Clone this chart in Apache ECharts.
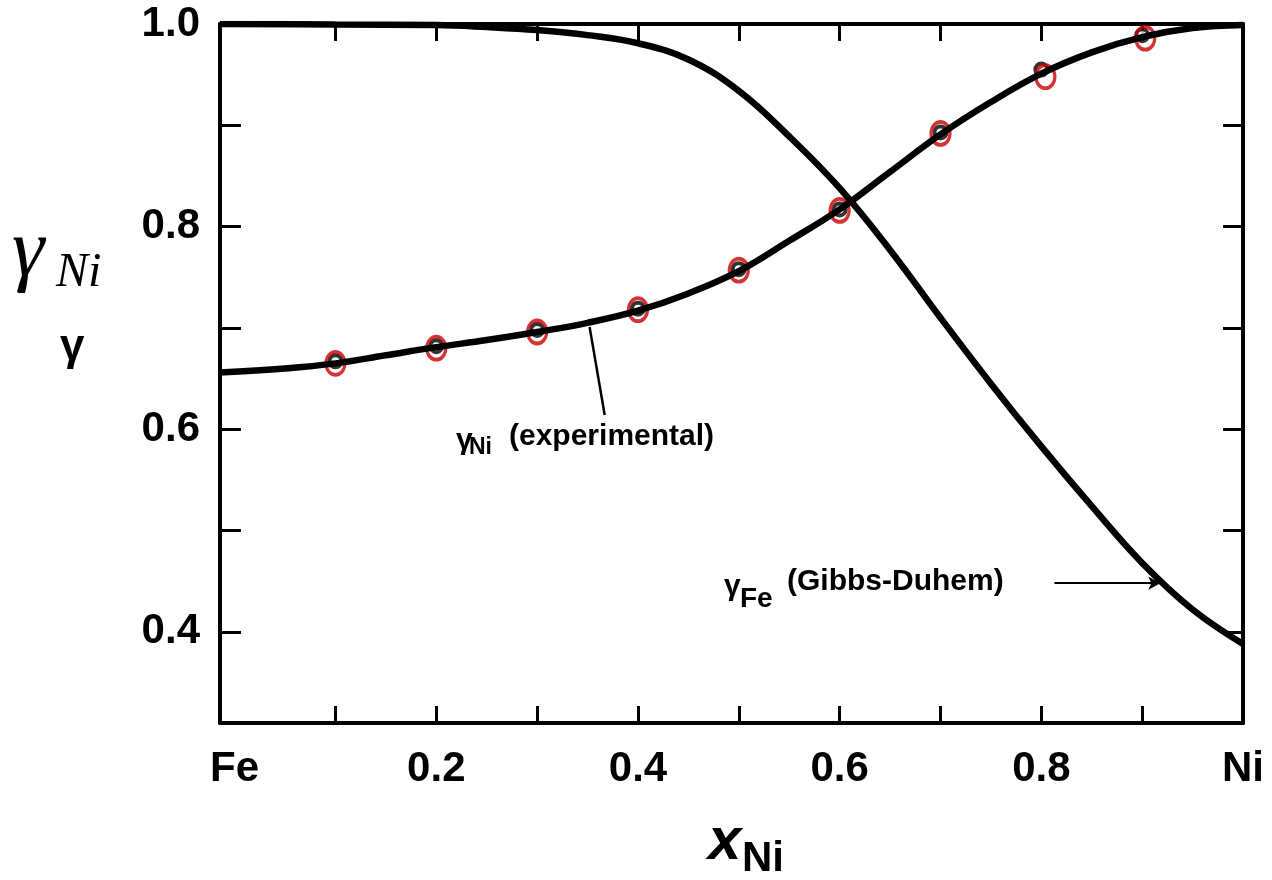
<!DOCTYPE html>
<html>
<head>
<meta charset="utf-8">
<script src="https://cdn.jsdelivr.net/npm/echarts@6/dist/echarts.min.js"></script>
<style>
  html, body { margin: 0; padding: 0; background: #ffffff; }
  #chart { width: 1272px; height: 880px; }
</style>
</head>
<body>
<div id="chart"></div>
<script>
// ---- data ----
const xMin = -0.0145;            // left frame edge of plot
const xMax = 1.0;
const yMin = 0.31;
const yMax = 1.0;

// gamma_Ni experimental smooth curve
const niCurveX = [-0.0145, 0.05, 0.1, 0.15, 0.2, 0.25, 0.3, 0.35, 0.4, 0.45, 0.5, 0.55, 0.6, 0.65, 0.7, 0.75, 0.8, 0.85, 0.9, 0.95, 1.0];
const niCurveY = [0.656, 0.660, 0.665, 0.673, 0.681, 0.688, 0.696, 0.705, 0.717, 0.734, 0.756, 0.786, 0.817, 0.854, 0.891, 0.923, 0.951, 0.972, 0.987, 0.996, 0.999];

// gamma_Fe Gibbs-Duhem curve
const feCurveX = [-0.0145, 0.1, 0.2, 0.25, 0.3, 0.35, 0.4, 0.45, 0.5, 0.55, 0.6, 0.65, 0.7, 0.75, 0.8, 0.85, 0.9, 0.95, 1.0];
const feCurveY = [1.0, 0.9995, 0.999, 0.997, 0.994, 0.989, 0.981, 0.965, 0.934, 0.889, 0.838, 0.777, 0.71, 0.645, 0.583, 0.524, 0.468, 0.422, 0.388];

// experimental points (black open dots)
const expX = [0.1, 0.2, 0.3, 0.4, 0.5, 0.6, 0.7, 0.8, 0.9];
const expY = [0.667, 0.682, 0.698, 0.719, 0.758, 0.817, 0.893, 0.955, 0.989];

// red circled points
const redX = [0.1, 0.2, 0.3, 0.4, 0.5, 0.6, 0.7, 0.804, 0.903];
const redY = [0.665, 0.680, 0.696, 0.718, 0.757, 0.816, 0.892, 0.948, 0.986];

// ticks / labels
const xTickValues = [0.1, 0.2, 0.3, 0.4, 0.5, 0.6, 0.7, 0.8, 0.9];
const xLabelValues = [0, 0.2, 0.4, 0.6, 0.8, 1.0];
const xLabelEnds = { first: 'Fe', last: 'Ni' };
const yTickValues = [0.4, 0.5, 0.6, 0.7, 0.8, 0.9];
const yLabelValues = [0.4, 0.6, 0.8, 1.0];

// annotation pointer lines (data coordinates)
const expPointer = [[0.352, 0.701], [0.367, 0.614]];
const feArrow = [[0.813, 0.448], [0.918, 0.448]];

const zip = (xs, ys) => xs.map((x, i) => [x, ys[i]]);

const chart = echarts.init(document.getElementById('chart'), null, { renderer: 'canvas' });

const axisLineStyle = { color: '#000', width: 4 };
const tickFont = { fontFamily: 'Liberation Sans', fontWeight: 'bold', fontSize: 42, color: '#000' };

const option = {
  backgroundColor: '#ffffff',
  animation: false,
  grid: { left: 220, right: 29, top: 24, bottom: 157, containLabel: false },
  xAxis: [
    {
      type: 'value', position: 'bottom', min: xMin, max: xMax,
      axisLine: { show: true, onZero: false, lineStyle: axisLineStyle },
      axisTick: { show: true, inside: true, length: 17, lineStyle: { color: '#000', width: 3 }, customValues: xTickValues },
      axisLabel: {
        show: true, margin: 25, customValues: xLabelValues, ...tickFont,
        formatter: v => Math.abs(v) < 1e-6 ? xLabelEnds.first : (Math.abs(v - 1) < 1e-6 ? xLabelEnds.last : v.toFixed(1))
      },
      splitLine: { show: false }
    },
    {
      type: 'value', position: 'top', min: xMin, max: xMax,
      axisLine: { show: true, onZero: false, lineStyle: axisLineStyle },
      axisTick: { show: true, inside: true, length: 17, lineStyle: { color: '#000', width: 3 }, customValues: xTickValues },
      axisLabel: { show: false },
      splitLine: { show: false }
    }
  ],
  yAxis: [
    {
      type: 'value', position: 'left', min: yMin, max: yMax,
      axisLine: { show: true, onZero: false, lineStyle: axisLineStyle },
      axisTick: { show: true, inside: true, length: 21, lineStyle: { color: '#000', width: 3 }, customValues: yTickValues },
      axisLabel: { show: true, margin: 20, customValues: yLabelValues, ...tickFont, formatter: v => v.toFixed(1) },
      splitLine: { show: false }
    },
    {
      type: 'value', position: 'right', min: yMin, max: yMax,
      axisLine: { show: true, onZero: false, lineStyle: axisLineStyle },
      axisTick: { show: true, inside: true, length: 20, lineStyle: { color: '#000', width: 3 }, customValues: yTickValues },
      axisLabel: { show: false },
      splitLine: { show: false }
    }
  ],
  series: [
    {
      name: 'gamma_Fe (Gibbs-Duhem)', type: 'line', xAxisIndex: 0, yAxisIndex: 0,
      data: zip(feCurveX, feCurveY), smooth: 0.4,
      showSymbol: false, lineStyle: { color: '#000', width: 6.5 },
      markLine: {
        silent: true, symbol: ['none', 'arrow'], symbolSize: [10, 12],
        lineStyle: { color: '#000', width: 1.8, type: 'solid' }, label: { show: false },
        data: [[{ coord: feArrow[0] }, { coord: feArrow[1] }]]
      }
    },
    {
      name: 'gamma_Ni (experimental)', type: 'line', xAxisIndex: 0, yAxisIndex: 0,
      data: zip(niCurveX, niCurveY), smooth: 0.4,
      showSymbol: false, lineStyle: { color: '#000', width: 6.5 },
      markLine: {
        silent: true, symbol: ['none', 'none'],
        lineStyle: { color: '#000', width: 2.5, type: 'solid' }, label: { show: false },
        data: [[{ coord: expPointer[0] }, { coord: expPointer[1] }]]
      }
    },
    {
      name: 'experimental points', type: 'scatter', xAxisIndex: 0, yAxisIndex: 0,
      data: zip(expX, expY), symbol: 'circle', symbolSize: 12,
      itemStyle: { color: '#fff', borderColor: '#000', borderWidth: 4 }
    },
    {
      name: 'circled points', type: 'scatter', xAxisIndex: 0, yAxisIndex: 0,
      data: zip(redX, redY), symbol: 'circle', symbolSize: [19, 23],
      itemStyle: { color: 'rgba(0,0,0,0)', borderColor: '#c80000', borderWidth: 3.5 }
    }
  ],
  graphic: [
    // y-axis title: gamma_Ni (serif italic)
    { type: 'text', left: 12, top: 212, style: { text: 'γ', font: 'italic 82px "Liberation Serif"', fill: '#000' } },
    { type: 'text', left: 56, top: 249, style: { text: 'Ni', font: 'italic 48px "Liberation Serif"', fill: '#000' } },
    { type: 'text', left: 60, top: 326, style: { text: 'γ', font: 'bold 44px "Liberation Sans"', fill: '#000' } },
    // x-axis title
    { type: 'text', left: 708, top: 812, style: { text: 'x', font: 'italic bold 60px "Liberation Sans"', fill: '#000' } },
    { type: 'text', left: 742, top: 838, style: { text: 'Ni', font: 'bold 42px "Liberation Sans"', fill: '#000' } },
    // annotation: gamma_Ni (experimental)
    { type: 'text', left: 456, top: 426, style: { text: 'γ', font: 'bold 30px "Liberation Sans"', fill: '#000' } },
    { type: 'text', left: 469, top: 436, style: { text: 'Ni', font: 'bold 23px "Liberation Sans"', fill: '#000' } },
    { type: 'text', left: 509, top: 422, style: { text: '(experimental)', font: 'bold 30px "Liberation Sans"', fill: '#000' } },
    // annotation: gamma_Fe (Gibbs-Duhem)
    { type: 'text', left: 724, top: 572, style: { text: 'γ', font: 'bold 30px "Liberation Sans"', fill: '#000' } },
    { type: 'text', left: 740, top: 585, style: { text: 'Fe', font: 'bold 28px "Liberation Sans"', fill: '#000' } },
    { type: 'text', left: 787, top: 567, style: { text: '(Gibbs-Duhem)', font: 'bold 30px "Liberation Sans"', fill: '#000' } }
  ]
};

chart.setOption(option);
</script>
</body>
</html>
